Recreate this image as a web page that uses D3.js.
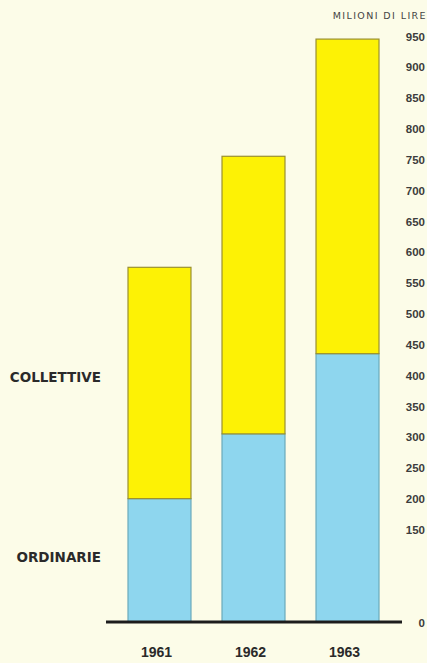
<!DOCTYPE html>
<html lang="it">
  <head>
    <meta charset="UTF-8" />
    <title>Milioni di lire 1961-1963</title>
    <style>
      html, body { margin: 0; padding: 0; background: #fcfce8; }
      svg { display: block; }
      .tick-label { font-family: "Liberation Sans", Arial, sans-serif; font-size: 11.5px; font-weight: bold; fill: #3c3c3c; }
      .year { font-family: "Liberation Sans", Arial, sans-serif; font-size: 14px; font-weight: bold; fill: #2a2a2a; }
      .series { font-family: "DejaVu Sans", sans-serif; font-size: 13.5px; font-weight: bold; fill: #2a2a2a; }
      .unit { font-family: "DejaVu Sans", sans-serif; font-size: 9.5px; fill: #444; letter-spacing: 1.4px; }
    </style>
  </head>
  <body>
    <script src="https://cdn.jsdelivr.net/npm/d3@7"></script>
    <script>

    // data (milioni di lire)
    var years = ["1961", "1962", "1963"];
    var ordinarie = [200, 305, 435];
    var collettive = [375, 450, 510];
    var tickValues = [0, 150, 200, 250, 300, 350, 400, 450, 500, 550, 600, 650, 700, 750, 800, 850, 900, 950];
    var seriesNames = ["ORDINARIE", "COLLETTIVE"];

    var w = 427;
    var h = 663;

    var svg = d3.select("body")
                .append("svg")
                .attr("width", w)
                .attr("height", h);

    var rows = years.map(function(y, i) {
      return { year: y, ORDINARIE: ordinarie[i], COLLETTIVE: collettive[i] };
    });

    var stack = d3.stack().keys(seriesNames);
    var layers = stack(rows);

    var xScale = d3.scaleBand()
      .domain(years)
      .range([128, 379])
      .paddingInner(0.33)
      .paddingOuter(0);

    var yScale = d3.scaleLinear()
      .domain([0, 950])
      .range([622, 36]);

    var fills = { ORDINARIE: "#8ed6ee", COLLETTIVE: "#fdf205" };
    var strokes = { ORDINARIE: "#6aaabb", COLLETTIVE: "#9a9030" };

    // bars
    svg.selectAll("g.layer")
       .data(layers)
       .enter()
       .append("g")
       .attr("class", "layer")
       .each(function(layer) {
         d3.select(this).selectAll("rect")
           .data(layer)
           .enter()
           .append("rect")
           .attr("x", function(d) { return xScale(d.data.year); })
           .attr("y", function(d) { return yScale(d[1]); })
           .attr("width", xScale.bandwidth())
           .attr("height", function(d) { return yScale(d[0]) - yScale(d[1]); })
           .attr("fill", fills[layer.key])
           .attr("stroke", strokes[layer.key])
           .attr("stroke-width", 1.2);
       });

    // baseline
    svg.append("line")
       .attr("x1", 106)
       .attr("x2", 402)
       .attr("y1", yScale(0))
       .attr("y2", yScale(0))
       .attr("stroke", "#1c1c1c")
       .attr("stroke-width", 3);

    // right value axis (labels only)
    var yAxis = d3.axisRight(yScale)
                  .tickValues(tickValues)
                  .tickSize(0)
                  .tickPadding(0);
    var ax = svg.append("g")
       .attr("transform", "translate(425,0)")
       .call(yAxis);
    ax.select(".domain").remove();
    ax.attr("font-family", null).attr("font-size", null);
    ax.selectAll("text")
      .attr("class", "tick-label")
      .attr("text-anchor", "end")
      .attr("x", 0)
      .attr("dy", "0.35em");

    svg.append("text")
       .attr("class", "unit")
       .attr("x", 427)
       .attr("y", 19)
       .attr("text-anchor", "end")
       .text("MILIONI DI LIRE");

    // year labels
    svg.selectAll("text.year")
       .data(years)
       .enter()
       .append("text")
       .attr("class", "year")
       .attr("x", function(d) { return xScale(d) + xScale.bandwidth() / 2 - 3; })
       .attr("y", 657)
       .attr("text-anchor", "middle")
       .text(function(d) { return d; });

    // series names on the left
    svg.append("text")
       .attr("class", "series")
       .attr("x", 101)
       .attr("y", 382)
       .attr("text-anchor", "end")
       .text("COLLETTIVE");

    svg.append("text")
       .attr("class", "series")
       .attr("x", 101)
       .attr("y", 562)
       .attr("text-anchor", "end")
       .text("ORDINARIE");

    </script>
  </body>
</html>
